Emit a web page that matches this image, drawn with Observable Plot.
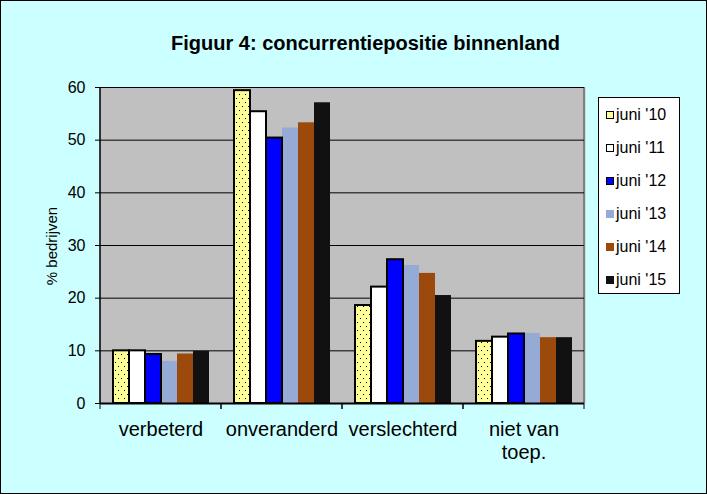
<!DOCTYPE html>
<html>
<head>
<meta charset="utf-8">
<script src="https://cdn.jsdelivr.net/npm/d3@7"></script>
<script src="https://cdn.jsdelivr.net/npm/@observablehq/plot@0.6"></script>
<style>
  html, body { margin: 0; padding: 0; background: #ccffff; }
  #wrap { position: relative; width: 707px; height: 494px; background: #ccffff;
          box-shadow: inset 0 0 0 1px #000; overflow: hidden;
          font-family: Arial, "Liberation Sans", sans-serif; }
  #title { position: absolute; left: 12px; top: 32px; width: 707px; text-align: center;
           font-size: 20px; font-weight: bold; color: #000; }
  #ylabel { position: absolute; left: 51px; top: 246px; transform: translate(-50%, -50%) rotate(-90deg);
            font-size: 15px; white-space: nowrap; color: #000; }
  #chart { position: absolute; left: 0; top: 80px; }
  #legend { position: absolute; left: 598px; top: 97px; width: 82px; height: 197px;
            background: #fff; border: 1px solid #000; box-sizing: border-box; padding-top: 0px; }
  .item { height: 33px; display: flex; align-items: center; font-size: 16px; color: #000; padding-left: 7px; }
  .sw { width: 8px; height: 8px; box-sizing: border-box; margin-right: 2px; }
</style>
</head>
<body>
<div id="wrap">
  <div id="title">Figuur 4: concurrentiepositie binnenland</div>
  <div id="ylabel">% bedrijven</div>
  <div id="chart"></div>
  <div id="legend"></div>
</div>
<script>
const categories = ["verbeterd", "onveranderd", "verslechterd", "niet van\ntoep."];
const series = ["juni '10", "juni '11", "juni '12", "juni '13", "juni '14", "juni '15"];
const v10 = [10.0, 59.4, 18.6, 11.8];
const v11 = [10.0, 55.4, 22.1, 12.6];
const v12 = [9.3, 50.4, 27.3, 13.2];
const v13 = [8.0, 52.3, 26.2, 13.3];
const v14 = [9.4, 53.3, 24.7, 12.5];
const v15 = [9.9, 57.1, 20.5, 12.5];
const yTicks = [0, 10, 20, 30, 40, 50, 60];
const fills = ["url(#dots)", "#ffffff", "#0000ff", "#95aad5", "#9c4a0c", "#111111"];
const swatchFills = ["#ffff99", "#ffffff", "#0000ff", "#95aad5", "#9c4a0c", "#111111"];
const outlined = ["juni '10", "juni '11", "juni '12"];

const allValues = [v10, v11, v12, v13, v14, v15];
const data = [];
series.forEach((s, si) => categories.forEach((c, ci) => data.push({category: c, series: s, value: allValues[si][ci]})));

// small ticks at the category boundaries below the x axis (drawn in every facet)
function boundaryTicks(index, scales) {
  const r = scales.x.range();
  const y0 = scales.y(0);
  const g = d3.create("svg:g").attr("stroke", "black").attr("stroke-width", 1);
  for (const xv of r) g.append("line").attr("x1", xv).attr("x2", xv).attr("y1", y0).attr("y2", y0 + 6);
  return g.node();
}

// a vertical edge line of the plot area, drawn only in the facet named in its data
class EdgeLine extends Plot.Mark {
  constructor(data, options = {}) {
    super(data, {}, {fx: options.fx});
    this.side = options.side;
    this.color = options.color;
    this.width = options.width;
  }
  render(index, scales) {
    if (!index || !index.length) return null;
    const r = scales.x.range();
    const xv = this.side === "left" ? Math.min(...r) : Math.max(...r);
    const [y0, y1] = scales.y.range();
    return d3.create("svg:line")
      .attr("x1", xv).attr("x2", xv).attr("y1", y0).attr("y2", y1)
      .attr("stroke", this.color).attr("stroke-width", this.width).node();
  }
}

const chart = Plot.plot({
  width: 707,
  height: 414,
  marginTop: 7,
  marginLeft: 100,
  marginRight: 123,
  marginBottom: 91,
  style: {background: "transparent", fontFamily: "Arial, 'Liberation Sans', sans-serif", color: "#000"},
  fx: {domain: categories, padding: 0, label: null},
  x: {domain: series, paddingInner: 0, paddingOuter: 0.74, axis: null},
  y: {domain: [0, 60], label: null},
  color: {domain: series, range: fills},
  marks: [
    Plot.frame({fill: "#c0c0c0", stroke: "none", insetLeft: -1, insetRight: -1}),
    new EdgeLine([categories[categories.length - 1]], {fx: d => d, side: "right", color: "#808080", width: 2}),
    Plot.gridY(yTicks, {stroke: "#000", strokeOpacity: 1, strokeWidth: 1}),
    Plot.barY(data.filter(d => !outlined.includes(d.series)), {fx: "category", x: "series", y: "value", fill: "series", inset: 0}),
    Plot.barY(data.filter(d => outlined.includes(d.series)), {fx: "category", x: "series", y: "value", fill: "series", stroke: "#000", strokeWidth: 2, inset: 0}),
    new EdgeLine([categories[0]], {fx: d => d, side: "left", color: "#000", width: 1.5}),
    Plot.ruleY([0], {stroke: "#000", strokeWidth: 2}),
    boundaryTicks,
    Plot.axisY({ticks: yTicks, tickSize: 5, tickPadding: 10, fontSize: 16, label: null}),
    Plot.axisFx({anchor: "bottom", tickSize: 0, tickPadding: 16, fontSize: 20, lineHeight: 1.15, label: null})
  ]
});

const svg = d3.select(chart);
const defs = svg.insert("defs", ":first-child");
const pat = defs.append("pattern").attr("id", "dots").attr("patternUnits", "userSpaceOnUse")
  .attr("width", 6).attr("height", 8);
pat.append("rect").attr("width", 6).attr("height", 8).attr("fill", "#ffff99");
pat.append("rect").attr("x", 1).attr("y", 2).attr("width", 1).attr("height", 1).attr("fill", "#000");
pat.append("rect").attr("x", 4).attr("y", 6).attr("width", 1).attr("height", 1).attr("fill", "#000");
document.getElementById("chart").appendChild(chart);

const legend = document.getElementById("legend");
series.forEach((s, i) => {
  const it = document.createElement("div");
  it.className = "item";
  const sw = document.createElement("span");
  sw.className = "sw";
  sw.style.background = swatchFills[i];
  if (outlined.includes(s)) sw.style.border = "1.5px solid #000";
  it.appendChild(sw);
  it.appendChild(document.createTextNode(s));
  legend.appendChild(it);
});
</script>
</body>
</html>
